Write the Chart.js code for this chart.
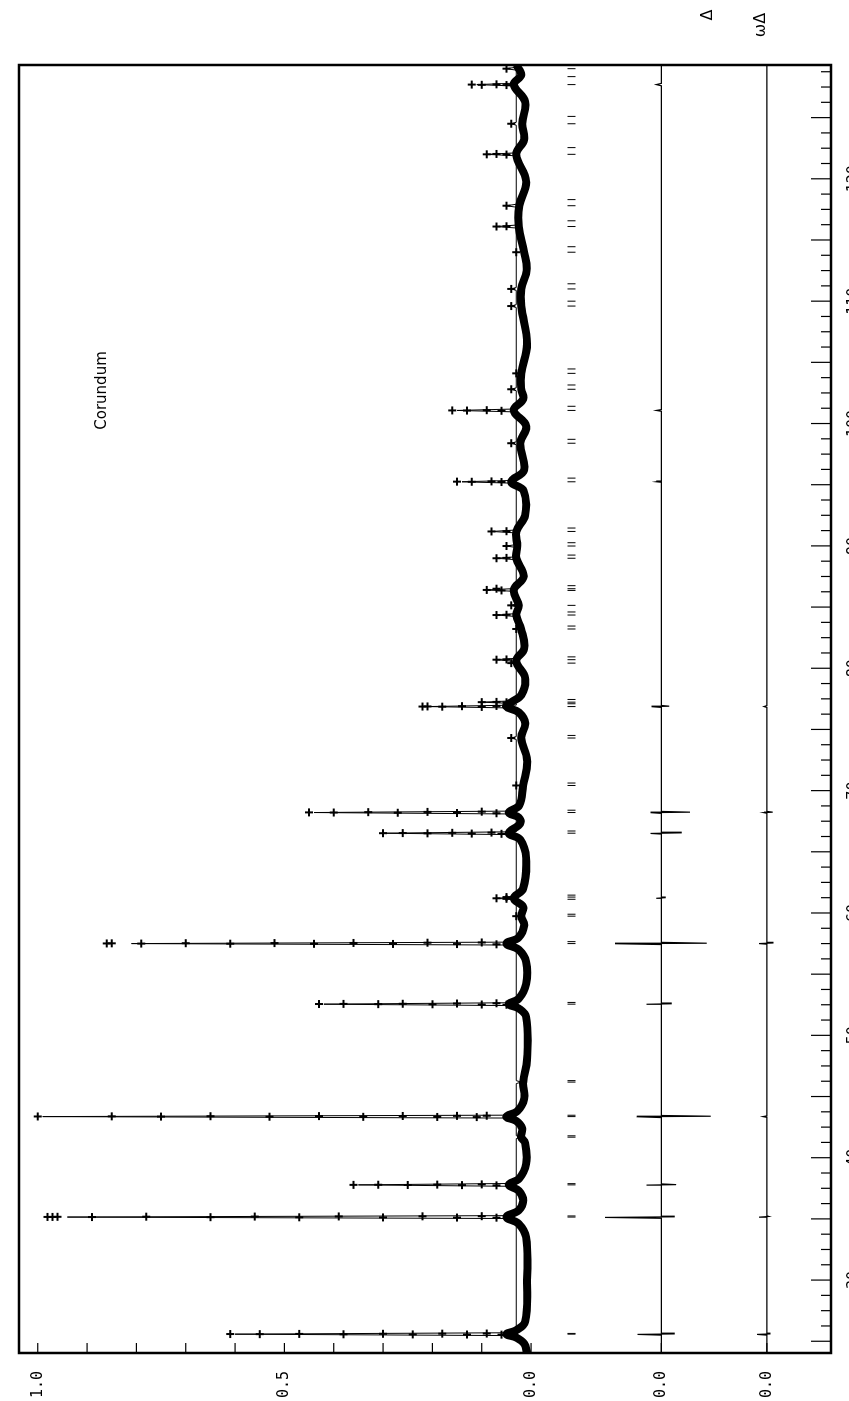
<!DOCTYPE html>
<html>
<head>
<meta charset="utf-8">
<script src="https://cdn.jsdelivr.net/npm/chart.js@4"></script>
<style>
html, body { margin: 0; padding: 0; background: #fff; width: 849px; height: 1401px; overflow: hidden; }
#wrap { position: absolute; left: 0; top: 0; width: 1401px; height: 880px;
        transform-origin: 0 0; transform: translate(0, 1401px) rotate(-90deg); }
</style>
</head>
<body>
<div id="wrap"><canvas id="c" width="1401" height="880"></canvas></div>
<script>
// axis ranges (2-theta along the long side, intensity across)
const twoThetaMin = 24.04, twoThetaMax = 129.3;
const intMin = -0.608, intMax = 1.038;
const diff1Zero = -0.264, diff2Zero = -0.478, markerLevel = -0.082;

const xTickValues = [30, 40, 50, 60, 70, 80, 90, 100, 110, 120];
const xTickLabels = ['30', '40', '50', '60', '70', '80', '90', '100', '110', '120'];
const yTickValues = [1.0, 0.5, 0.0, diff1Zero, diff2Zero];
const yTickLabels = ['1.0', '0.5', '0.0', '0.0', '0.0'];

// reflection positions (tick marks)
const reflections = [25.58, 25.64, 35.15, 35.24, 37.78, 37.88, 41.68, 41.79, 43.36, 43.47, 46.18, 46.30,
  52.55, 52.69, 57.50, 57.66, 59.74, 59.90, 61.12, 61.30, 61.46, 66.52, 66.70, 68.21, 68.40,
  70.42, 70.62, 74.30, 74.51, 76.87, 77.10, 77.23, 77.45, 80.42, 80.70, 80.93, 83.21, 83.45,
  84.35, 84.60, 85.14, 86.36, 86.50, 86.75, 88.99, 89.25, 89.99, 90.26, 91.18, 91.46,
  95.24, 95.54, 98.39, 98.71, 101.07, 101.41, 102.80, 103.15, 104.10, 104.46, 109.60, 110.00,
  111.0, 111.42, 114.0, 114.45, 116.1, 116.57, 117.8, 118.3, 122.0, 122.55, 124.5, 125.1,
  127.7, 128.35, 129.0];

// observed background band (thick trace)
const obsBand = [[24.04,0.008],[24.8,0.014],[25.3,0.03],[25.58,0.05],[25.9,0.03],[26.6,0.012],[30,0.008],
  [33.5,0.01],[34.6,0.025],[35.15,0.05],[35.7,0.025],[36.5,0.016],[37.3,0.025],[37.78,0.045],[38.3,0.024],
  [39.5,0.01],[41.2,0.012],[41.68,0.02],[42.4,0.018],[43.0,0.03],[43.36,0.05],[43.8,0.028],[44.8,0.014],
  [46.18,0.016],[48,0.008],[51.5,0.01],[52.2,0.025],[52.55,0.045],[53,0.025],[54.2,0.01],[56,0.01],
  [57.0,0.025],[57.5,0.05],[58.0,0.025],[59.0,0.014],[59.74,0.02],[60.5,0.016],[61.2,0.035],[62,0.016],
  [64.5,0.01],[66.0,0.022],[66.52,0.045],[67.3,0.022],[67.8,0.025],[68.21,0.045],[68.8,0.024],[70.42,0.016],
  [72.5,0.008],[74.3,0.02],[75.5,0.012],[76.4,0.025],[76.87,0.05],[77.23,0.04],[77.8,0.02],[79.2,0.012],
  [80.6,0.03],[81.6,0.014],[83.2,0.02],[84.35,0.03],[85.14,0.025],[86.4,0.035],[87.5,0.015],[89.0,0.03],
  [90.0,0.028],[91.18,0.03],[92.5,0.012],[94.5,0.015],[95.24,0.04],[96.2,0.014],[98.39,0.022],[99.8,0.01],
  [101.07,0.035],[102.0,0.016],[102.8,0.02],[104.1,0.02],[106.5,0.008],[109.6,0.02],[111.0,0.02],[112.5,0.009],
  [114.0,0.014],[116.1,0.025],[117.8,0.024],[119.8,0.01],[122.0,0.03],[123.2,0.014],[124.5,0.018],
  [126.3,0.012],[127.7,0.035],[128.5,0.02],[129.3,0.03]];

// observed points on the peaks (+ marks)
const obsPeaks = [
  [25.54,0.06],[25.55,0.13],[25.56,0.24],[25.57,0.38],[25.58,0.55],[25.59,0.61],[25.60,0.47],[25.61,0.30],[25.62,0.18],[25.63,0.09],
  [35.10,0.07],[35.11,0.15],[35.12,0.30],[35.13,0.47],[35.14,0.65],[35.15,0.89],[35.16,0.98],[35.16,0.97],[35.17,0.96],[35.18,0.78],[35.19,0.56],[35.20,0.39],[35.21,0.22],[35.22,0.10],
  [37.74,0.07],[37.76,0.14],[37.77,0.25],[37.78,0.36],[37.79,0.31],[37.80,0.19],[37.82,0.10],
  [41.68,0.02],
  [43.31,0.05],[43.32,0.11],[43.33,0.19],[43.34,0.34],[43.35,0.53],[43.36,0.75],[43.37,1.00],[43.38,0.85],[43.39,0.65],[43.40,0.43],[43.41,0.26],[43.42,0.15],[43.43,0.09],
  [52.50,0.05],[52.52,0.10],[52.54,0.20],[52.55,0.31],[52.56,0.43],[52.57,0.38],[52.58,0.26],[52.60,0.15],[52.62,0.07],
  [57.44,0.07],[57.46,0.15],[57.47,0.28],[57.48,0.44],[57.49,0.61],[57.50,0.79],[57.51,0.86],[57.52,0.85],[57.53,0.70],[57.54,0.52],[57.55,0.36],[57.57,0.21],[57.59,0.10],
  [59.74,0.03],[61.16,0.05],[61.2,0.07],[61.3,0.05],
  [66.47,0.06],[66.49,0.12],[66.51,0.21],[66.52,0.30],[66.53,0.26],[66.55,0.16],[66.57,0.08],
  [68.15,0.07],[68.17,0.15],[68.19,0.27],[68.21,0.40],[68.22,0.45],[68.24,0.33],[68.26,0.21],[68.28,0.10],
  [70.42,0.03],[74.30,0.04],
  [76.82,0.05],[76.84,0.10],[76.86,0.18],[76.87,0.22],[76.88,0.21],[76.90,0.14],[76.92,0.07],
  [77.22,0.05],[77.23,0.10],[77.25,0.07],
  [80.42,0.04],[80.70,0.07],[80.72,0.05],[83.21,0.03],[84.35,0.07],[84.37,0.05],[85.14,0.04],
  [86.36,0.06],[86.40,0.09],[86.50,0.07],[88.99,0.07],[89.02,0.05],[89.99,0.05],[91.18,0.08],[91.20,0.05],
  [95.22,0.06],[95.24,0.12],[95.25,0.15],[95.27,0.08],[98.39,0.04],
  [101.04,0.06],[101.06,0.13],[101.07,0.16],[101.09,0.09],[102.8,0.04],[104.1,0.03],
  [109.6,0.04],[111.0,0.04],[114.0,0.03],[116.1,0.07],[116.12,0.05],[117.8,0.05],
  [121.98,0.05],[122.0,0.09],[122.03,0.07],[124.5,0.04],
  [127.66,0.05],[127.68,0.10],[127.70,0.12],[127.72,0.07],[129.0,0.05]
];

// calculated profile tips (thin line)
const calcPeaks = [[25.58,0.60],[35.15,0.94],[37.78,0.35],[41.68,0.02],[43.36,0.99],[46.18,0.02],[52.55,0.42],
  [57.50,0.81],[59.74,0.03],[61.2,0.07],[66.52,0.30],[68.21,0.44],[70.42,0.03],[74.30,0.04],[76.87,0.21],
  [77.23,0.10],[80.42,0.04],[80.70,0.07],[83.21,0.03],[84.35,0.07],[85.14,0.04],[86.40,0.09],[88.99,0.07],
  [89.99,0.05],[91.18,0.08],[95.24,0.14],[98.39,0.04],[101.07,0.15],[102.8,0.04],[104.1,0.03],[109.6,0.04],
  [111.0,0.04],[114.0,0.03],[116.1,0.07],[117.8,0.05],[122.0,0.09],[124.5,0.04],[127.7,0.11],[129.0,0.05]];

// difference curves, values relative to their own zero line
const diff1 = [[24.04,0],[25.5,0],[25.56,0.048],[25.6,-0.026],[25.66,0],[35.05,0],[35.12,0.114],[35.17,-0.026],[35.22,0],
  [37.7,0],[37.76,0.03],[37.8,-0.03],[37.86,0],[43.28,0],[43.35,0.05],[43.39,-0.1],[43.45,0],[52.48,0],[52.54,0.03],[52.58,-0.02],[52.64,0],
  [57.42,0],[57.49,0.094],[57.53,-0.092],[57.6,0],[61.15,0],[61.2,0.01],[61.25,-0.008],[61.3,0],
  [66.45,0],[66.5,0.022],[66.55,-0.04],[66.6,0],[68.14,0],[68.2,0.022],[68.24,-0.058],[68.3,0],
  [76.8,0],[76.86,0.02],[76.9,-0.016],[76.96,0],[95.2,0],[95.24,0.01],[95.3,0],[101.0,0],[101.07,0.01],[101.14,0],
  [127.6,0],[127.7,0.01],[127.8,0],[129.3,0]];
const diff2 = [[24.04,0],[25.5,0],[25.56,0.02],[25.6,-0.006],[25.66,0],[35.1,0],[35.14,0.016],[35.2,-0.004],[35.25,0],
  [43.3,0],[43.36,0.008],[43.42,0],[57.45,0],[57.5,0.016],[57.55,-0.012],[57.6,0],[68.15,0],[68.2,0.006],[68.24,-0.012],[68.3,0],
  [76.8,0],[76.87,0.006],[76.95,0],[129.3,0]];

const pts = (arr, off) => arr.map(p => ({ x: p[0], y: p[1] + (off || 0) }));

function calcLine() {
  // background points joined to peak tips
  const out = [];
  calcPeaks.forEach(p => {
    out.push({ x: p[0] - 0.12, y: 0.03 });
    out.push({ x: p[0], y: p[1] });
    out.push({ x: p[0] + 0.12, y: 0.03 });
  });
  return out;
}

const frame = {
  id: 'frame',
  afterDraw(chart) {
    const { ctx, chartArea: a, scales: { x, y } } = chart;
    ctx.save();
    ctx.strokeStyle = '#000';
    ctx.lineWidth = 2.5;
    ctx.strokeRect(a.left, a.top, a.right - a.left, a.bottom - a.top);
    ctx.lineWidth = 1.2;
    // 2-theta ticks pointing inward from the bottom edge
    for (let t = 25; t <= twoThetaMax; t += 1.25) {
      const px = x.getPixelForValue(t);
      const len = (t % 5 === 0) ? 20 : 10;
      ctx.beginPath(); ctx.moveTo(px, a.bottom); ctx.lineTo(px, a.bottom - len); ctx.stroke();
    }
    // intensity ticks pointing inward from the left edge
    const yt = [0, 0.1, 0.2, 0.3, 0.4, 0.5, 0.6, 0.7, 0.8, 0.9, 1.0, diff1Zero, diff2Zero];
    yt.forEach(v => {
      const py = y.getPixelForValue(v);
      ctx.beginPath(); ctx.moveTo(a.left, py); ctx.lineTo(a.left + 10, py); ctx.stroke();
    });
    // labels
    ctx.fillStyle = '#000';
    ctx.font = '15px "DejaVu Sans"';
    ctx.textAlign = 'center';
    ctx.textBaseline = 'middle';
    ctx.fillText('Corundum', x.getPixelForValue(102.7), y.getPixelForValue(0.87));
    ctx.font = '16px "DejaVu Sans"';
    ctx.fillText('\u0394', a.right + 50, y.getPixelForValue(-0.358));
    ctx.fillText('\u03c9\u0394', a.right + 40, y.getPixelForValue(-0.466));
    ctx.restore();
  }
};

new Chart(document.getElementById('c'), {
  type: 'scatter',
  data: {
    datasets: [
      { label: 'obs band', data: pts(obsBand), showLine: true, borderColor: '#000', borderWidth: 8,
        pointRadius: 0, tension: 0.4 },
      { label: 'calc', data: calcLine(), showLine: true, borderColor: '#000', borderWidth: 1,
        pointRadius: 0, tension: 0 },
      { label: 'obs', data: pts(obsPeaks), showLine: false, pointStyle: 'cross', pointRadius: 4,
        borderColor: '#000', borderWidth: 2 },
      { label: 'reflections', data: reflections.map(t => ({ x: t, y: markerLevel })), showLine: false,
        pointStyle: 'line', rotation: 90, pointRadius: 4, borderColor: '#000', borderWidth: 1 },
      { label: 'diff', data: pts(diff1, diff1Zero), showLine: true, borderColor: '#000', borderWidth: 1.2,
        pointRadius: 0, tension: 0 },
      { label: 'w diff', data: pts(diff2, diff2Zero), showLine: true, borderColor: '#000', borderWidth: 1.2,
        pointRadius: 0, tension: 0 }
    ]
  },
  options: {
    responsive: false,
    animation: false,
    devicePixelRatio: 1,
    layout: { padding: { left: 0, right: 65, top: 8, bottom: 0 } },
    plugins: { legend: { display: false }, tooltip: { enabled: false } },
    scales: {
      x: {
        type: 'linear', min: twoThetaMin, max: twoThetaMax,
        grid: { display: false }, border: { display: false },
        afterBuildTicks: s => { s.ticks = xTickValues.map(v => ({ value: v })); },
        afterFit: s => { s.height = 49; },
        ticks: { color: '#000', padding: 6, maxRotation: 0, font: { family: 'DejaVu Sans Mono', size: 15 },
          callback: (v, i) => xTickLabels[i] }
      },
      y: {
        type: 'linear', min: intMin, max: intMax,
        grid: { display: false }, border: { display: false },
        afterBuildTicks: s => { s.ticks = yTickValues.map(v => ({ value: v })); },
        afterFit: s => { s.width = 48; },
        ticks: { color: '#000', padding: 10, font: { family: 'DejaVu Sans Mono', size: 15 },
          callback: (v, i) => yTickLabels[i] }
      }
    }
  },
  plugins: [frame]
});
</script>
</body>
</html>
